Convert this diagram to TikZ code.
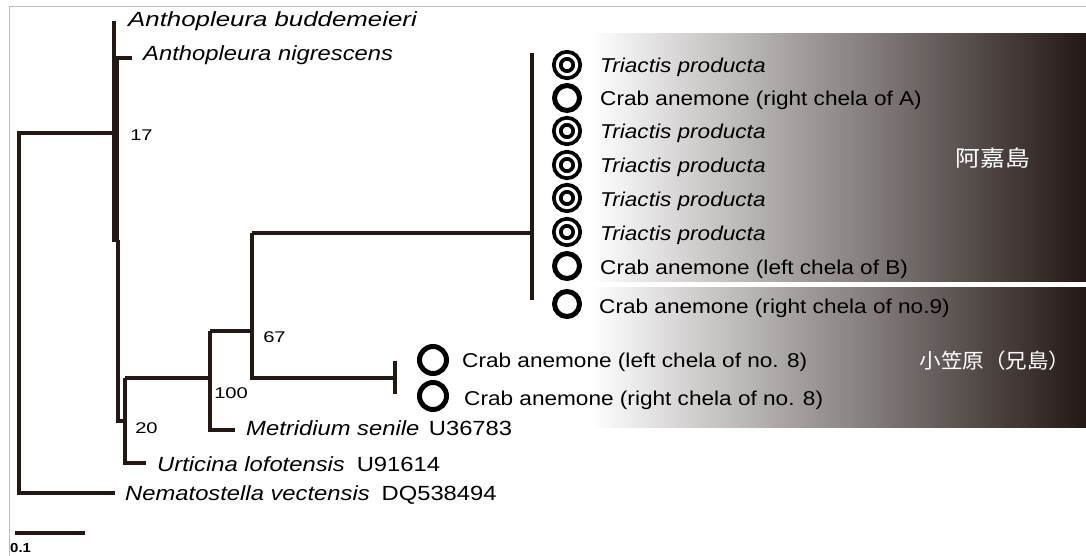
\documentclass[tikz,border=0pt]{standalone}
\usepackage{fontspec}
\usepackage{graphicx}
\setmainfont{Liberation Sans}
\newfontfamily\cjk{Noto Sans CJK JP}
\definecolor{ink}{RGB}{35,24,21}
\definecolor{framegray}{RGB}{190,190,190}
\begin{document}
\begin{tikzpicture}[x=1pt,y=-1pt,
  br/.style={draw=ink,line width=3.6pt},
  lab/.style={anchor=base west,inner sep=0pt,font=\fontsize{20}{24}\selectfont,xscale=1.13,text=black},
  lefttab/.style={anchor=base west,inner sep=0pt,font=\fontsize{20.5}{24}\selectfont,xscale=1.16,text=black},
  num/.style={anchor=base west,inner sep=0pt,font=\fontsize{15.5}{18}\selectfont,xscale=1.3,text=black},
  ring/.style={circle,draw=black,line width=5pt,minimum size=25pt,inner sep=0pt},
  dring/.style={circle,draw=black,line width=3.8pt,double=white,double distance=3pt,minimum size=19.4pt,inner sep=0pt},
  jp/.style={text=white,inner sep=0pt}
]
\useasboundingbox (0,0) rectangle (1086,556);
% frame
\coordinate (f1) at (9.5,556); \coordinate (f2) at (9.5,7); \coordinate (f3) at (1086,7);
\draw[framegray,line width=1pt] (f1) -- (f2) -- (f3);
% gradient panels
\shade[left color=white,right color=ink] (590,34) rectangle (1086,281);
\shade[left color=white,right color=ink] (590,287) rectangle (1086,427);
\node[jp,font=\cjk\fontsize{22}{26}\selectfont,xscale=1.13] (akajima) at (993,158) {阿嘉島};
\node[jp,font=\cjk\fontsize{20.5}{24}\selectfont,xscale=1.05] (ogasawara) at (995,361) {小笠原（兄島）};
% tree coordinates
\coordinate (rt) at (19,133); \coordinate (rb) at (19,493); \coordinate (nem) at (115,493);
\coordinate (n17) at (113,133);
\coordinate (ab) at (114,21); \coordinate (an0) at (114,58); \coordinate (an) at (132,58);
\coordinate (tk1) at (115.5,57); \coordinate (tk2) at (115.5,242);
\coordinate (st1) at (118,240); \coordinate (st2) at (118,421); \coordinate (n20m) at (125,421);
\coordinate (n20t) at (125,378); \coordinate (n20b) at (125,463); \coordinate (urt) at (146,463);
\coordinate (n100) at (210,378); \coordinate (n100t) at (210,331); \coordinate (n100b) at (210,430); \coordinate (met) at (235,430);
\coordinate (n67t) at (252,233); \coordinate (n67m) at (252,331); \coordinate (n67b) at (252,378);
\coordinate (ob) at (395,378); \coordinate (ob1) at (395,361); \coordinate (ob2) at (395,394);
\coordinate (ak) at (532,233); \coordinate (akt) at (532,53); \coordinate (akb) at (532,300);
% branches
\draw[br] (n17) -- (rt) -- (rb) -- (nem);
\draw[br] (ab) -- (an0) -- (an);
\draw[draw=ink,line width=7pt] (tk1) -- (tk2);
\draw[br] (st1) -- (st2) -- (n20m);
\draw[br] (n20t) -- (n20b) -- (urt);
\draw[br] (n20t) -- (n100);
\draw[br] (n100t) -- (n100b) -- (met);
\draw[br] (n100t) -- (n67m);
\draw[br] (n67t) -- (n67b) -- (ob);
\draw[br] (ob1) -- (ob2);
\draw[br] (n67t) -- (ak);
\draw[br] (akt) -- (akb);
% support values
\node[num] (s17) at (130,141) {17};
\node[num] (s20) at (135,433) {20};
\node[num] (s100) at (214,398) {100};
\node[num] (s67) at (263,342) {67};
% leaf labels
\node[anchor=base west,inner sep=0pt,text=black,font=\fontsize{20.5}{24}\selectfont] (l1) at (128,27) {\scalebox{1.26}[1]{\itshape Anthopleura buddemeieri}};
\node[lefttab] (l2) at (143,61) {\itshape Anthopleura nigrescens};
\node[lefttab] (l3) at (246,435) {\itshape Metridium senile\hspace{0.4em}\upshape U36783};
\node[lefttab] (l4) at (157,471) {\itshape Urticina lofotensis\hspace{0.5em}\upshape U91614};
\node[lefttab] (l5) at (125,500) {\itshape Nematostella vectensis\hspace{0.5em}\upshape DQ538494};
% Akajima clade markers
\node[dring] (c1) at (567,65) {};
\node[ring] (c2) at (567,98) {};
\node[dring] (c3) at (567,131) {};
\node[dring] (c4) at (567,165) {};
\node[dring] (c5) at (567,198) {};
\node[dring] (c6) at (567,232) {};
\node[ring] (c7) at (567,266) {};
\node[ring] (c8) at (567,304) {};
\node[lab] (t1) at (600,73) {\itshape Triactis producta};
\node[lab] (t2) at (600,106) {Crab anemone (right chela of A)};
\node[lab] (t3) at (600,139) {\itshape Triactis producta};
\node[lab] (t4) at (600,172) {\itshape Triactis producta};
\node[lab] (t5) at (600,206) {\itshape Triactis producta};
\node[lab] (t6) at (600,240) {\itshape Triactis producta};
\node[lab] (t7) at (600,274) {Crab anemone (left chela of B)};
\node[lab] (t8) at (599,313) {Crab anemone (right chela of no.9)};
% Ogasawara pair
\node[ring,minimum size=27pt] (c9) at (433,360) {};
\node[ring,minimum size=27pt] (c10) at (433,396) {};
\node[lab] (t9) at (462,367) {Crab anemone (left chela of no. 8)};
\node[lab] (t10) at (464,405) {Crab anemone (right chela of no. 8)};
% scale bar
\coordinate (sb1) at (15,533); \coordinate (sb2) at (85,533);
\draw[draw=ink,line width=4pt] (sb1) -- (sb2);
\node[anchor=base west,inner sep=0pt,font=\bfseries\fontsize{13}{15}\selectfont,xscale=1.15] (sc) at (10,552) {0.1};
\end{tikzpicture}
\end{document}
